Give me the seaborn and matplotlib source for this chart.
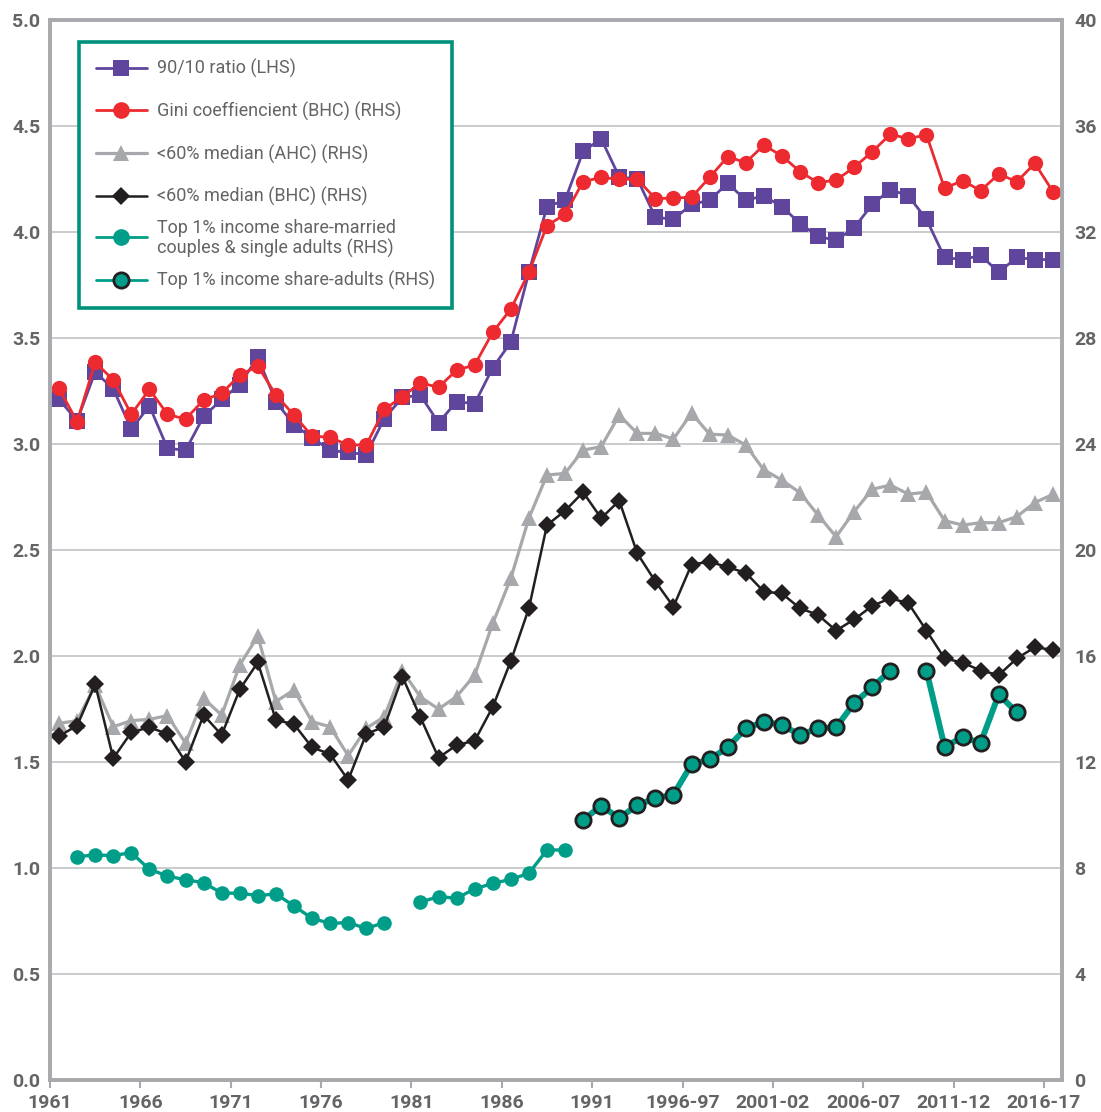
import matplotlib
matplotlib.use("Agg")
import matplotlib.pyplot as plt
from matplotlib.lines import Line2D
import seaborn as sns

# Periods on the x axis (calendar years, then financial years)
periods = [
    "1961", "1962", "1963", "1964", "1965", "1966", "1967", "1968", "1969", "1970",
    "1971", "1972", "1973", "1974", "1975", "1976", "1977", "1978", "1979", "1980",
    "1981", "1982", "1983", "1984", "1985", "1986", "1987", "1988", "1989", "1990",
    "1991", "1992", "1993-94", "1994-95", "1995-96", "1996-97", "1997-98", "1998-99",
    "1999-00", "2000-01", "2001-02", "2002-03", "2003-04", "2004-05", "2005-06",
    "2006-07", "2007-08", "2008-09", "2009-10", "2010-11", "2011-12", "2012-13",
    "2013-14", "2014-15", "2015-16", "2016-17",
]
tick_labels = ["1961", "1966", "1971", "1976", "1981", "1986", "1991",
               "1996-97", "2001-02", "2006-07", "2011-12", "2016-17"]

# LHS
ratio_90_10 = [
    3.21, 3.11, 3.34, 3.26, 3.07, 3.18, 2.98, 2.97, 3.13, 3.21,
    3.28, 3.41, 3.20, 3.09, 3.03, 2.97, 2.96, 2.95, 3.12, 3.22,
    3.23, 3.10, 3.20, 3.19, 3.36, 3.48, 3.81, 4.12, 4.15, 4.38,
    4.44, 4.26, 4.25, 4.07, 4.06, 4.13, 4.15, 4.23, 4.15, 4.17,
    4.12, 4.04, 3.98, 3.96, 4.02, 4.13, 4.20, 4.17, 4.06, 3.88,
    3.87, 3.89, 3.81, 3.88, 3.87, 3.87,
]
# RHS
gini_bhc = [
    26.10, 24.84, 27.08, 26.42, 25.12, 26.06, 25.12, 24.94, 25.66, 25.91,
    26.60, 26.94, 25.85, 25.09, 24.30, 24.25, 23.96, 23.96, 25.31, 25.78,
    26.31, 26.14, 26.79, 26.98, 28.22, 29.09, 30.48, 32.24, 32.67, 33.90,
    34.06, 33.99, 33.99, 33.26, 33.28, 33.31, 34.06, 34.84, 34.62, 35.28,
    34.87, 34.28, 33.86, 33.96, 34.44, 35.03, 35.69, 35.52, 35.67, 33.65,
    33.94, 33.56, 34.19, 33.90, 34.59, 33.52,
]
below60_ahc = [
    13.46, 13.56, 14.90, 13.33, 13.56, 13.61, 13.75, 12.71, 14.40, 13.77,
    15.66, 16.75, 14.28, 14.72, 13.52, 13.33, 12.24, 13.27, 13.71, 15.44,
    14.45, 14.00, 14.47, 15.28, 17.23, 18.93, 21.20, 22.83, 22.89, 23.77,
    23.90, 25.09, 24.40, 24.40, 24.19, 25.16, 24.37, 24.34, 23.96, 23.02,
    22.64, 22.16, 21.32, 20.50, 21.45, 22.29, 22.45, 22.11, 22.18, 21.11,
    20.94, 21.03, 21.03, 21.26, 21.79, 22.10,
]
below60_bhc = [
    12.98, 13.37, 14.94, 12.14, 13.12, 13.31, 13.06, 12.01, 13.77, 13.02,
    14.74, 15.76, 13.58, 13.43, 12.55, 12.30, 11.32, 13.06, 13.33, 15.22,
    13.68, 12.16, 12.64, 12.80, 14.08, 15.81, 17.80, 20.94, 21.48, 22.18,
    21.20, 21.86, 19.87, 18.81, 17.86, 19.45, 19.56, 19.35, 19.14, 18.43,
    18.36, 17.80, 17.55, 16.96, 17.38, 17.89, 18.18, 17.99, 16.96, 15.91,
    15.75, 15.45, 15.28, 15.91, 16.33, 16.23,
]
top1_couples = [
    None, 8.43, 8.49, 8.47, 8.58, 7.95, 7.70, 7.55, 7.45, 7.05,
    7.05, 6.96, 7.02, 6.57, 6.10, 5.91, 5.94, 5.72, 5.94, None,
    6.71, 6.92, 6.86, 7.21, 7.42, 7.57, 7.80, 8.68, 8.68, None,
    None, None, None, None, None, None, None, None, None, None,
    None, None, None, None, None, None, None, None, None, None,
    None, None, None, None, None, None,
]
top1_adults = [
    None, None, None, None, None, None, None, None, None, None,
    None, None, None, None, None, None, None, None, None, None,
    None, None, None, None, None, None, None, None, None, 9.81,
    10.35, 9.88, 10.38, 10.63, 10.77, 11.91, 12.10, 12.55, 13.27, 13.52,
    13.40, 13.02, 13.27, 13.31, 14.22, 14.82, 15.45, None, 15.45, 12.58,
    12.93, 12.73, 14.55, 13.87, None, None,
]

sns.set_theme(style="white")
plt.rcParams["font.family"] = ["Roboto", "DejaVu Sans"]

TEXT = "#636466"
AXIS = "#a7a9ac"
GRID = "#c6c7c8"
PURPLE = "#60459c"
RED = "#ec2a2f"
GREY = "#a6a8ab"
BLACK = "#231f20"
TEAL = "#009e89"
TEAL_BORDER = "#00917c"

pos = {p: i for i, p in enumerate(periods)}


def draw(axis, values, **kws):
    # one lineplot per unbroken run so gaps stay open
    run = []
    for i, v in enumerate(values + [None]):
        if v is None:
            if run:
                sns.lineplot(x=[pos[periods[k]] for k in run],
                             y=[values[k] for k in run], ax=axis, **kws)
                run = []
        else:
            run.append(i)


fig = plt.figure(figsize=(11.01, 11.12), dpi=100)
ax = fig.add_axes([50 / 1101, 32 / 1112, 1012 / 1101, 1060 / 1112])
ax2 = ax.twinx()

draw(ax, ratio_90_10, color=PURPLE, lw=2, marker="s", markersize=12,
     markeredgecolor=PURPLE, markeredgewidth=0)
draw(ax2, below60_ahc, color=GREY, lw=2.3, marker="^", markersize=12,
     markeredgecolor=GREY, markeredgewidth=0)
draw(ax2, below60_bhc, color=BLACK, lw=1.8, marker="D", markersize=9,
     markeredgecolor=BLACK, markeredgewidth=0)
draw(ax2, gini_bhc, color=RED, lw=2, marker="o", markersize=11,
     markeredgecolor=RED, markeredgewidth=0)
draw(ax2, top1_couples, color=TEAL, lw=2.4, marker="o", markersize=10.5,
     markeredgecolor=TEAL, markeredgewidth=0)
draw(ax2, top1_adults, color=TEAL, lw=4.3, marker="o", markersize=11,
     markeredgecolor=BLACK, markeredgewidth=2)

# axes
ax.set_xlim(-0.5, len(periods) - 0.5)
ax.set_ylim(0, 5)
ax2.set_ylim(0, 40)
ax.set_yticks([k * 0.5 for k in range(11)])
ax.set_yticklabels([f"{k * 0.5:.1f}" for k in range(11)])
ax2.set_yticks(range(0, 41, 4))
ax.set_xticks([pos[t] - 0.5 for t in tick_labels])
ax.set_xticklabels(tick_labels)
for a in (ax, ax2):
    a.set_xlabel("")
    a.set_ylabel("")
    for s in a.spines.values():
        s.set_color(AXIS)
        s.set_linewidth(2.6)

ax.set_axisbelow(True)
ax.grid(axis="y", color=GRID, lw=1.3)
ax.grid(axis="x", visible=False)
ax2.grid(False)

ax.tick_params(axis="x", bottom=True, length=6, width=1.5, color=AXIS,
               labelsize=14, labelcolor=TEXT, pad=4)
ax.tick_params(axis="y", length=0, labelsize=14, labelcolor=TEXT, pad=7)
ax2.tick_params(axis="y", length=0, labelsize=14, labelcolor=TEXT, pad=9)
for lab in ax.get_xticklabels() + ax.get_yticklabels() + ax2.get_yticklabels():
    lab.set_fontweight("bold")

# legend
handles = [
    Line2D([], [], color=PURPLE, lw=2, marker="s", ms=12, mec=PURPLE, mew=0),
    Line2D([], [], color=RED, lw=2, marker="o", ms=12, mec=RED, mew=0),
    Line2D([], [], color=GREY, lw=2.3, marker="^", ms=12, mec=GREY, mew=0),
    Line2D([], [], color=BLACK, lw=1.8, marker="D", ms=9, mec=BLACK, mew=0),
    Line2D([], [], color=TEAL, lw=2, marker="o", ms=12, mec=TEAL, mew=0),
    Line2D([], [], color=TEAL, lw=2, marker="o", ms=11, mec=BLACK, mew=2),
]
labels = [
    "90/10 ratio (LHS)",
    "Gini coeffiencient (BHC) (RHS)",
    "<60% median (AHC) (RHS)",
    "<60% median (BHC) (RHS)",
    "Top 1% income share-married\ncouples & single adults (RHS)",
    "Top 1% income share-adults (RHS)",
]
# the two-line label sits inside a single-row slot, so it is written separately
leg = ax2.legend(handles, [lab if "\n" not in lab else " " for lab in labels],
                 loc="upper left",
                 bbox_to_anchor=(29 / 1012, 1 - 22 / 1060), borderaxespad=0,
                 frameon=True, fancybox=False, framealpha=1,
                 edgecolor=TEAL_BORDER, facecolor="white", fontsize=13,
                 handlelength=2.8, handletextpad=0.55, labelspacing=1.3,
                 borderpad=0.95, labelcolor=TEXT)
leg.get_frame().set_linewidth(2.6)

fig.canvas.draw()
renderer = fig.canvas.get_renderer()
W, H = fig.bbox.width, fig.bbox.height
for lab, txt in zip(labels, leg.get_texts()):
    if "\n" in lab:
        bb = txt.get_window_extent(renderer)
        fig.text(bb.x0 / W, (bb.y0 + bb.y1) / 2 / H, lab, ha="left",
                 va="center", fontsize=13, color=TEXT, linespacing=1.15,
                 zorder=10)

fig.savefig("out.png", dpi=100)
